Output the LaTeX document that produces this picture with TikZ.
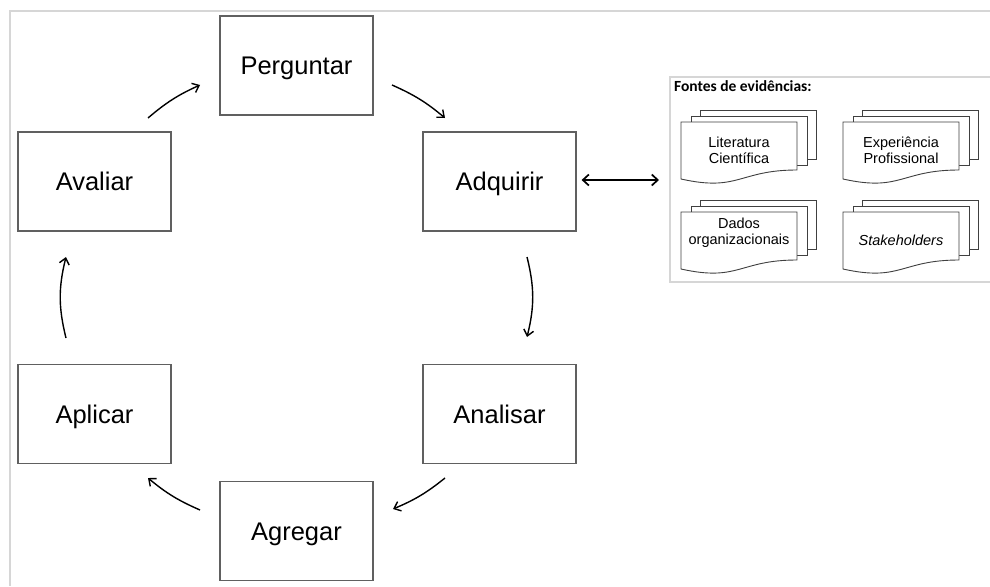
\documentclass[tikz,border=0pt]{standalone}
\usepackage{fontspec}
\setmainfont{Liberation Sans}
\newfontfamily\calfont{Carlito}
\usetikzlibrary{arrows.meta}
\definecolor{framegray}{HTML}{D6D6D6}
\definecolor{boxgray}{HTML}{606060}
\definecolor{docgray}{HTML}{404040}
\tikzset{
  stepbox/.style={draw=boxgray, line width=1.2pt, fill=white, minimum width=153pt, minimum height=99pt,
    inner sep=0pt, text height=18pt, text depth=0pt, font=\fontsize{25.5}{30}\selectfont},
  cyclearrow/.style={line width=1.4pt, -{Straight Barb[length=6pt,width=10pt]}, bend left=8},
  docline/.style={draw=docgray, line width=0.9pt, fill=white},
  doctext/.style={align=center, inner sep=0pt, font=\fontsize{14.5}{16}\selectfont},
  frameline/.style={draw=framegray, line width=1.5pt}
}
\newcommand\docstack[5]{%
  \begin{scope}[shift={(#1,#2)}]
    \draw[docline] (19,-12) rectangle (135,37);
    \draw[docline] (10,-6) rectangle (126,43);
    \draw[docline] (0,0) -- (116,0) -- (116,48) .. controls (58,48) and (58,70) .. (0,57) -- cycle;
    \node[doctext] (#3) at (58,#4) {#5};
  \end{scope}}
\begin{document}
\begin{tikzpicture}[x=1pt,y=-1pt]
\useasboundingbox (0,0) rectangle (990,586);
% outer frame
\draw[frameline] (990,11) -- (10,11) -- (10,586);
% cycle boxes
\node[stepbox] (perg) at (296.5,65.5) {Perguntar};
\node[stepbox] (aval) at (94.5,181.5) {Avaliar};
\node[stepbox] (adq)  at (499.5,181.5) {Adquirir};
\node[stepbox] (anal) at (499.5,414) {Analisar};
\node[stepbox] (apl)  at (94.5,414) {Aplicar};
\node[stepbox] (agr)  at (296.5,531) {Agregar};
% arrow end points
\coordinate (a1s) at (148,118); \coordinate (a1e) at (200,85);
\coordinate (a2s) at (392,85);  \coordinate (a2e) at (445,118);
\coordinate (a3s) at (527,257); \coordinate (a3e) at (527,337);
\coordinate (a4s) at (445,478); \coordinate (a4e) at (393,509);
\coordinate (a5s) at (200,510); \coordinate (a5e) at (148,478);
\coordinate (a6s) at (66,338);  \coordinate (a6e) at (66,257);
\draw[cyclearrow] (a1s) to (a1e);
\draw[cyclearrow] (a2s) to (a2e);
\draw[cyclearrow, bend left=14] (a3s) to (a3e);
\draw[cyclearrow] (a4s) to (a4e);
\draw[cyclearrow] (a5s) to (a5e);
\draw[cyclearrow, bend left=14] (a6s) to (a6e);
% evidence panel
\draw[frameline] (990,77) -- (670,77) -- (670,282) -- (990,282);
\coordinate (panelW) at (670,180);
\node[anchor=base west, inner sep=0pt, font=\calfont\bfseries\fontsize{15.5}{18}\selectfont] (title) at (674,91) {Fontes de evidências:};
\draw[line width=1.7pt, {Straight Barb[length=6pt,width=11pt]}-{Straight Barb[length=6pt,width=11pt]}, shorten <=5pt, shorten >=11pt] (adq.east |- panelW) -- (panelW);
\docstack{681}{122}{lit}{28}{Literatura\\Científica}
\docstack{843}{122}{exp}{28}{Experiência\\Profissional}
\docstack{681}{212}{dad}{21}{Dados\\organizacionais}
\docstack{843}{212}{stk}{28}{\itshape Stakeholders}
\end{tikzpicture}
\end{document}
